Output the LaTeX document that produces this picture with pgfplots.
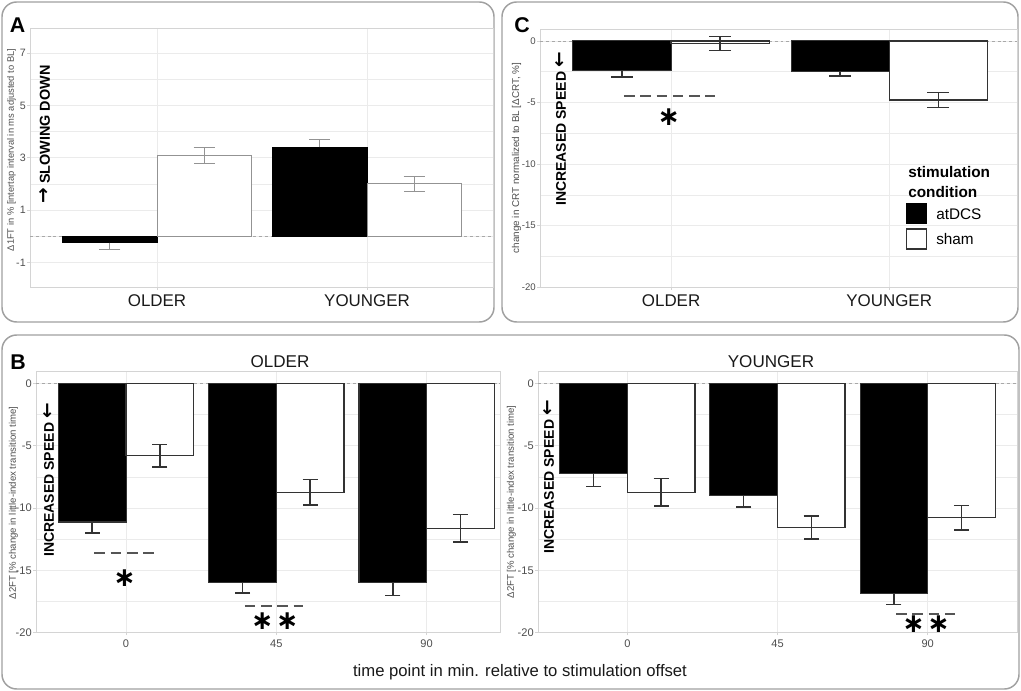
\documentclass[border=0pt]{standalone}
\usepackage{fontspec}
\setmainfont{Liberation Sans}
\newfontfamily\djv{DejaVu Sans}
\usepackage{pgfplots}
\pgfplotsset{compat=1.18}
\definecolor{gridc}{HTML}{EBEBEB}
\definecolor{borderc}{HTML}{D4D4D4}
\definecolor{tickc}{HTML}{4D4D4D}
\definecolor{framec}{HTML}{A0A0A0}
\definecolor{dark}{HTML}{333333}
\definecolor{sigc}{HTML}{555555}
\definecolor{zeroc}{HTML}{A8A8A8}
\pgfplotsset{
  gg/.style={
    scale only axis,
    anchor=south west,
    axis line style={draw=borderc, line width=0.6pt},
    every tick/.style={draw=borderc, line width=0.5pt},
    major tick length=2pt,
    minor tick length=0pt,
    tick align=outside,
    tick pos=left,
    xmajorgrids, ymajorgrids, yminorgrids,
    major grid style={draw=gridc, line width=0.5pt},
    minor grid style={draw=gridc, line width=0.3pt},
    /pgf/number format/assume math mode=true,
    yticklabel style={text=tickc, inner sep=1pt},
  },
  zeroline/.style={forget plot, draw=zeroc, line width=0.5pt, dash pattern=on 2.2pt off 2.2pt},
  barA/.style={ybar, bar width=0.45, bar shift=0pt, fill=#1},
  errb/.style n args={4}{draw=none, mark=none, forget plot, error bars/.cd, y dir=#1, y explicit,
     error bar style={draw=#2, line width=#3, solid},
     error mark options={draw=#2, line width=#3, solid, rotate=90, mark size=#4}},
  sig/.style={forget plot, draw=sigc, line width=1.4pt, dash pattern=on 8pt off 4.2pt},
}
\tikzset{sigstar/.style={inner sep=0pt, font=\fontsize{20}{20}\selectfont}}
\newcommand{\sigast}{{\djv\bfseries ∗}}
\newcommand{\ra}{{\djv\bfseries\fontsize{14}{14}\selectfont →}}
\newcommand{\la}{{\djv\bfseries\fontsize{14}{14}\selectfont ←}}
\begin{document}
\begin{tikzpicture}[x=0.75pt,y=-0.75pt]
\path (0,0) rectangle (1021,691);
% panel frames
\draw[framec, line width=1.1pt, rounded corners=11pt] (2,2) rectangle (494,322);
\draw[framec, line width=1.1pt, rounded corners=11pt] (502,2) rectangle (1018,322);
\draw[framec, line width=1.1pt, rounded corners=11pt] (2,335) rectangle (1019,689);
\coordinate (Aa) at (30,287);
\coordinate (Ca) at (540,287);
\coordinate (Ba) at (36,632.7);
\coordinate (Bb) at (538,632.7);

% ---------------- Panel A
\begin{axis}[gg, at={(Aa)}, width=347.25pt, height=194.25pt,
  xmin=0.395, xmax=2.6, ymin=-1.94, ymax=7.96,
  xtick={1,2}, xticklabels={OLDER,YOUNGER}, ytick={-1,1,3,5,7}, minor ytick={0,2,4,6},
  yticklabel style={font=\fontsize{8}{8}\selectfont},
  xticklabel style={font=\fontsize{12.7}{13}\selectfont, text=black!90}]
\addplot[zeroline] coordinates {(0.395,0) (2.6,0)};
\addplot[barA=black, draw=black, line width=0.5pt] coordinates {(0.775,-0.24) (1.775,3.40)};
\addplot[barA=white, draw=gray!85, line width=0.7pt] coordinates {(1.225,3.10) (2.225,2.00)};
\addplot[errb={minus}{gray!85}{0.7pt}{7.9pt}] coordinates {(0.775,-0.24) +- (0,0.25)};
\addplot[errb={plus}{gray!85}{0.7pt}{7.9pt}] coordinates {(1.775,3.40) +- (0,0.31)};
\addplot[errb={both}{gray!85}{0.7pt}{7.9pt}] coordinates {(1.225,3.10) +- (0,0.30) (2.225,2.00) +- (0,0.30)};
\end{axis}

% ---------------- Panel C
\begin{axis}[gg, at={(Ca)}, width=357.75pt, height=193.5pt,
  xmin=0.399, xmax=2.586, ymin=-20, ymax=0.97,
  xtick={1,2}, xticklabels={OLDER,YOUNGER}, ytick={-20,-15,-10,-5,0}, minor ytick={-17.5,-12.5,-7.5,-2.5},
  yticklabel style={font=\fontsize{7.2}{7.2}\selectfont},
  xticklabel style={font=\fontsize{12.7}{13}\selectfont, text=black!90}]
\addplot[zeroline] coordinates {(0.399,0) (2.586,0)};
\addplot[barA=black, draw=dark, line width=0.8pt] coordinates {(0.775,-2.43) (1.775,-2.49)};
\addplot[barA=white, draw=dark, line width=1pt] coordinates {(1.225,-0.22) (2.225,-4.81)};
\addplot[errb={minus}{dark}{1.1pt}{8.2pt}] coordinates {(0.775,-2.43) +- (0,0.52) (1.775,-2.49) +- (0,0.36)};
\addplot[errb={both}{dark}{1.1pt}{8.2pt}] coordinates {(1.225,-0.22) +- (0,0.57) (2.225,-4.81) +- (0,0.61)};
\addplot[sig] coordinates {(0.784,-4.49) (1.2,-4.49)};
\node[sigstar] at (axis cs:0.99,-6.2) {\sigast};
\end{axis}

% ---------------- Panel B, OLDER
\begin{axis}[gg, at={(Ba)}, width=348pt, height=195.75pt,
  xmin=0.401, xmax=3.488, ymin=-20, ymax=0.93,
  xtick={1,2,3}, xticklabels={0,45,90}, ytick={-20,-15,-10,-5,0}, minor ytick={-17.5,-12.5,-7.5,-2.5},
  yticklabel style={font=\fontsize{8.3}{8.3}\selectfont},
  xticklabel style={font=\fontsize{8.3}{9}\selectfont, text=tickc}]
\addplot[zeroline] coordinates {(0.401,0) (3.488,0)};
\addplot[barA=black, draw=dark, line width=0.8pt] coordinates {(0.775,-11.12) (1.775,-15.95) (2.775,-15.99)};
\addplot[barA=white, draw=dark, line width=1pt] coordinates {(1.225,-5.80) (2.225,-8.74) (3.225,-11.63)};
\addplot[errb={minus}{dark}{1.1pt}{5.7pt}] coordinates {(0.775,-11.12) +- (0,0.88) (1.775,-15.95) +- (0,0.85) (2.775,-15.99) +- (0,1.01)};
\addplot[errb={both}{dark}{1.1pt}{5.7pt}] coordinates {(1.225,-5.80) +- (0,0.90) (2.225,-8.74) +- (0,1.01) (3.225,-11.63) +- (0,1.10)};
\addplot[sig] coordinates {(0.79,-13.58) (1.19,-13.58)};
\addplot[sig] coordinates {(1.79,-17.83) (2.18,-17.83)};
\node[sigstar] at (axis cs:0.99,-15.6) {\sigast};
\node[sigstar] at (axis cs:1.99,-19.05) {\sigast\hspace{2pt}\sigast};
\end{axis}

% ---------------- Panel B, YOUNGER
\begin{axis}[gg, at={(Bb)}, width=359.25pt, height=195.75pt,
  xmin=0.405, xmax=3.595, ymin=-20, ymax=0.93,
  xtick={1,2,3}, xticklabels={0,45,90}, ytick={-20,-15,-10,-5,0}, minor ytick={-17.5,-12.5,-7.5,-2.5},
  yticklabel style={font=\fontsize{8.3}{8.3}\selectfont},
  xticklabel style={font=\fontsize{8.3}{9}\selectfont, text=tickc}]
\addplot[zeroline] coordinates {(0.405,0) (3.595,0)};
\addplot[barA=black, draw=dark, line width=0.8pt] coordinates {(0.775,-7.25) (1.775,-8.98) (2.775,-16.82)};
\addplot[barA=white, draw=dark, line width=1pt] coordinates {(1.225,-8.74) (2.225,-11.55) (3.225,-10.78)};
\addplot[errb={minus}{dark}{1.1pt}{5.7pt}] coordinates {(0.775,-7.25) +- (0,1.01) (1.775,-8.98) +- (0,0.94) (2.775,-16.82) +- (0,0.93)};
\addplot[errb={both}{dark}{1.1pt}{5.7pt}] coordinates {(1.225,-8.74) +- (0,1.10) (2.225,-11.55) +- (0,0.92) (3.225,-10.78) +- (0,0.99)};
\addplot[sig] coordinates {(2.79,-18.53) (3.18,-18.53)};
\node[sigstar] at (axis cs:2.99,-19.35) {\sigast\hspace{2pt}\sigast};
\end{axis}

% ---------------- texts
\node[font=\fontsize{16}{16}\selectfont\bfseries] at (17.5,25) {A};
\node[font=\fontsize{16}{16}\selectfont\bfseries] at (522,25) {C};
\node[font=\fontsize{16}{16}\selectfont\bfseries] at (18,362) {B};

\node[rotate=90, font=\fontsize{7}{7}\selectfont, text=tickc] at (11.5,150) {Δ1FT in \% [intertap interval in ms adjusted to BL]};
\node[rotate=90, font=\fontsize{7.4}{7.4}\selectfont, text=tickc] at (516.5,158) {change in CRT normalized to BL [ΔCRT, \%]};
\node[rotate=90, font=\fontsize{7.2}{7.2}\selectfont, text=tickc] at (13.5,503) {Δ2FT [\% change in little-index transition time]};
\node[rotate=90, font=\fontsize{7.2}{7.2}\selectfont, text=tickc] at (511.5,502) {Δ2FT [\% change in little-index transition time]};

\node[rotate=90, font=\fontsize{10.8}{11}\selectfont\bfseries] at (45,134.5) {\ra\ SLOWING DOWN};
\node[rotate=90, font=\fontsize{10.5}{11}\selectfont\bfseries] at (561,129) {INCREASED SPEED \la};
\node[rotate=90, font=\fontsize{10.5}{11}\selectfont\bfseries] at (49,480) {INCREASED SPEED \la};
\node[rotate=90, font=\fontsize{10.5}{11}\selectfont\bfseries] at (549,477) {INCREASED SPEED \la};

\node[font=\fontsize{12.8}{13}\selectfont, text=black!90] at (280,361.7) {OLDER};
\node[font=\fontsize{12.8}{13}\selectfont, text=black!90] at (771,361.7) {YOUNGER};
\node[font=\fontsize{12.5}{13}\selectfont, text=black!90] at (520,671.7) {time point in min. relative to stimulation offset};

% legend
\node[anchor=west, inner sep=0pt, font=\fontsize{11.5}{12}\selectfont\bfseries] at (908,172) {stimulation};
\node[anchor=west, inner sep=0pt, font=\fontsize{11.5}{12}\selectfont\bfseries] at (908,192) {condition};
\fill[black] (906,203) rectangle (927,224);
\draw[dark, fill=white, line width=0.9pt] (906.5,229) rectangle (926.5,249);
\node[anchor=west, inner sep=0pt, font=\fontsize{11.5}{12}\selectfont] at (936,214) {atDCS};
\node[anchor=west, inner sep=0pt, font=\fontsize{11.5}{12}\selectfont] at (936,239) {sham};
\end{tikzpicture}
\end{document}
